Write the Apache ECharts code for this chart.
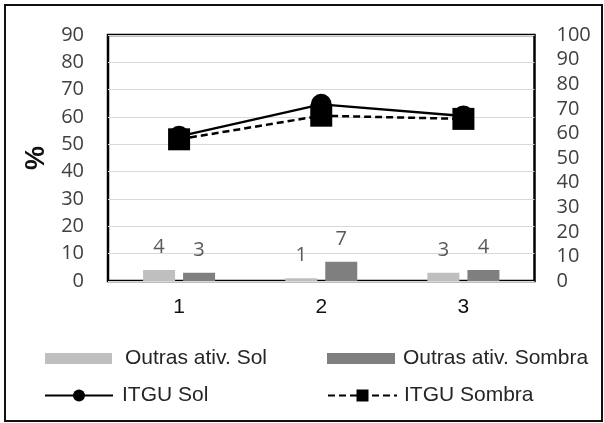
<!DOCTYPE html>
<html>
<head>
<meta charset="utf-8">
<script src="https://cdn.jsdelivr.net/npm/echarts@6/dist/echarts.min.js"></script>
<style>
  html, body { margin: 0; padding: 0; background: #fff; }
  #chart { width: 604px; height: 423px; }
</style>
</head>
<body>
<div id="chart"></div>
<script>
// Categories along the x axis
const categories = ['1', '2', '3'];

// "Outras atividades" bars, % (left axis)
const outrasSol = [4, 1, 3];
const outrasSombra = [3, 7, 4];

// ITGU lines (right axis)
const itguSol = [58.8, 71.8, 67.1];
const itguSombra = [57.6, 67.2, 65.9];

// Axis ranges
const leftAxis = { min: 0, max: 90, step: 10 };
const rightAxis = { min: 0, max: 100, step: 10 };

const tickFont = { fontFamily: 'Open Sans', fontSize: 20, color: '#404040' };
const legendFont = { fontFamily: 'Liberation Sans', fontSize: 21, color: '#262626' };

const chart = echarts.init(document.getElementById('chart'), null, { renderer: 'canvas' });

chart.setOption({
  animation: false,
  backgroundColor: '#fff',
  graphic: [{
    type: 'rect',
    shape: { x: 5, y: 5, width: 597, height: 416 },
    style: { fill: 'none', stroke: '#111', lineWidth: 2 },
    silent: true
  }],
  grid: {
    left: 108, right: 69.5, top: 35, bottom: 142,
    show: true, borderColor: '#000', borderWidth: 2.5,
    containLabel: false
  },
  legend: [
    {
      data: [{ name: 'Outras ativ. Sol', icon: 'rect' }],
      left: 45, top: 348, padding: 0, itemWidth: 67, itemHeight: 11,
      textStyle: Object.assign({ padding: [0, 0, 0, 8] }, legendFont)
    },
    {
      data: [{ name: 'Outras ativ. Sombra', icon: 'rect' }],
      left: 327, top: 348, padding: 0, itemWidth: 68, itemHeight: 11,
      textStyle: Object.assign({ padding: [0, 0, 0, 3] }, legendFont)
    },
    {
      data: [{ name: 'ITGU Sol' }],
      left: 44, top: 385, padding: 0, itemWidth: 68, itemHeight: 15,
      textStyle: Object.assign({ padding: [0, 0, 0, 4] }, legendFont)
    },
    {
      data: [{ name: 'ITGU Sombra' }],
      left: 327, top: 385, padding: 0, itemWidth: 69, itemHeight: 15,
      textStyle: Object.assign({ padding: [0, 0, 0, 2] }, legendFont)
    }
  ],
  xAxis: {
    type: 'category',
    data: categories,
    axisLine: { show: false },
    axisTick: { show: false },
    axisLabel: { margin: 16, fontFamily: 'Liberation Sans', fontSize: 21, color: '#111' }
  },
  yAxis: [
    {
      type: 'value',
      min: leftAxis.min, max: leftAxis.max, interval: leftAxis.step,
      name: '%',
      nameLocation: 'middle',
      nameGap: 56,
      nameRotate: 90,
      nameTextStyle: { fontFamily: 'Liberation Sans', fontSize: 27, fontWeight: 'bold', color: '#111' },
      axisLine: { show: false },
      axisTick: { show: false },
      axisLabel: Object.assign({ margin: 24 }, tickFont),
      splitLine: { show: true, lineStyle: { color: '#d9d9d9', width: 1 } }
    },
    {
      type: 'value',
      min: rightAxis.min, max: rightAxis.max, interval: rightAxis.step,
      position: 'right',
      axisLine: { show: false },
      axisTick: { show: false },
      axisLabel: Object.assign({ margin: 22 }, tickFont),
      splitLine: { show: false }
    }
  ],
  series: [
    {
      name: 'Outras ativ. Sol',
      type: 'bar',
      yAxisIndex: 0,
      data: outrasSol,
      barWidth: 32,
      barGap: '25%',
      itemStyle: { color: '#bfbfbf' },
      label: { show: true, position: 'top', distance: 13, fontFamily: 'Open Sans', fontSize: 20, color: '#595959' }
    },
    {
      name: 'Outras ativ. Sombra',
      type: 'bar',
      yAxisIndex: 0,
      data: outrasSombra,
      barWidth: 32,
      barGap: '25%',
      itemStyle: { color: '#7f7f7f' },
      label: { show: true, position: 'top', distance: 13, fontFamily: 'Open Sans', fontSize: 20, color: '#595959' }
    },
    {
      name: 'ITGU Sol',
      type: 'line',
      yAxisIndex: 1,
      data: itguSol,
      symbol: 'circle',
      symbolSize: 21,
      lineStyle: { color: '#000', width: 2.5, type: 'solid' },
      itemStyle: { color: '#000' },
      z: 3
    },
    {
      name: 'ITGU Sombra',
      type: 'line',
      yAxisIndex: 1,
      data: itguSombra,
      symbol: 'rect',
      symbolSize: 22,
      lineStyle: { color: '#000', width: 2.5, type: [7, 4] },
      itemStyle: { color: '#000' },
      z: 4
    }
  ]
});
</script>
</body>
</html>
